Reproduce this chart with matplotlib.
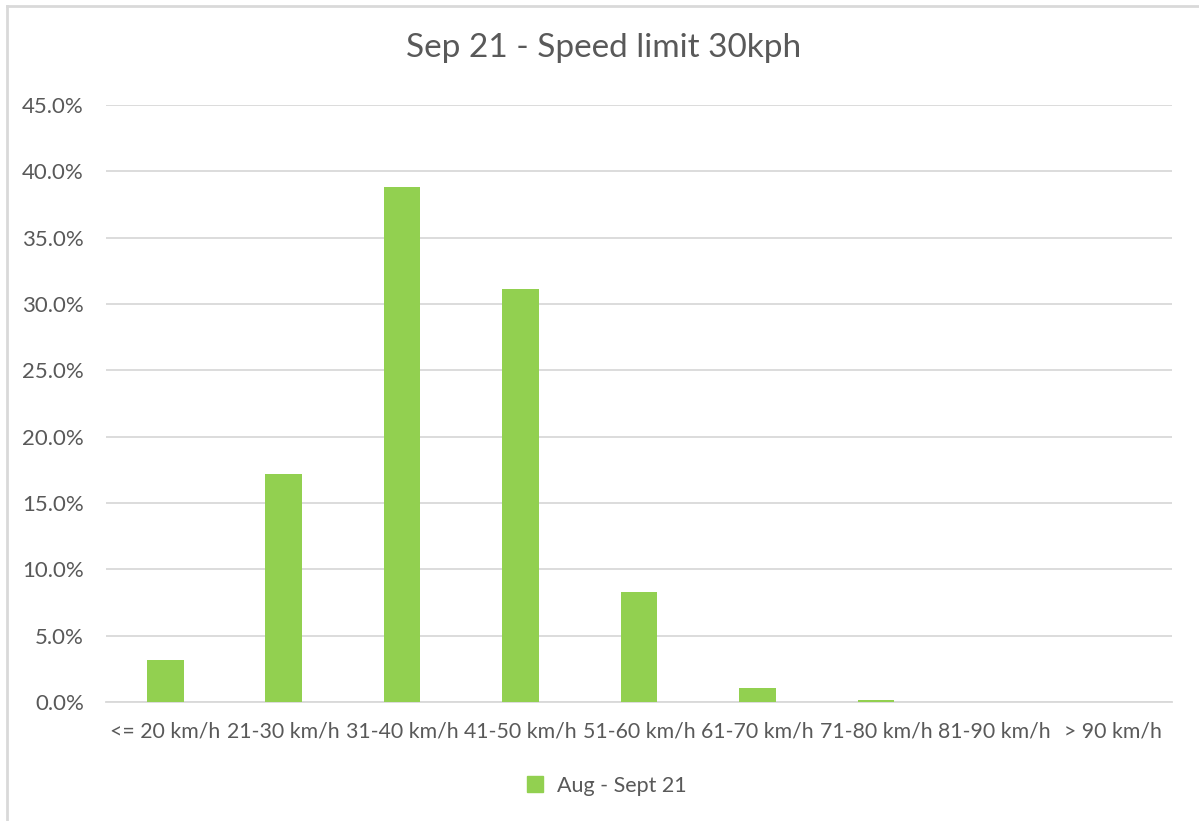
import matplotlib
matplotlib.use("Agg")
import matplotlib.pyplot as plt
from matplotlib.ticker import PercentFormatter
from matplotlib.lines import Line2D

categories = ["<= 20 km/h", "21-30 km/h", "31-40 km/h", "41-50 km/h", "51-60 km/h",
              "61-70 km/h", "71-80 km/h", "81-90 km/h", "> 90 km/h"]
share = [3.2, 17.2, 38.8, 31.1, 8.3, 1.05, 0.15, 0.0, 0.0]
series_name = "Aug - Sept 21"
title = "Sep 21 - Speed limit 30kph"

green = "#92D050"
txt = "#595959"
grid = "#D9D9D9"

plt.rcParams['font.family'] = ['Lato', 'DejaVu Sans']

fig = plt.figure(figsize=(11.99, 8.21), dpi=100)
ax = fig.add_axes([106/1199, 1 - 702/821, (1172-106)/1199, (702-105)/821])

x = range(len(categories))
ax.bar(x, share, width=0.31, color=green, zorder=3)

ax.set_xlim(-0.5, len(categories) - 0.5)
ax.set_ylim(0, 45)
ax.set_yticks(range(0, 46, 5))
ax.yaxis.set_major_formatter(PercentFormatter(decimals=1))
ax.set_xticks(list(x))
ax.set_xticklabels(categories)
ax.tick_params(axis='both', length=0, labelsize=16, colors=txt)
ax.tick_params(axis='x', labelsize=15.3, pad=14)
ax.tick_params(axis='y', pad=16)
ax.grid(axis='y', color=grid, linewidth=1.3, zorder=0)
for s in ['top', 'right', 'left']:
    ax.spines[s].set_visible(False)
ax.spines['bottom'].set_color(grid)
ax.spines['bottom'].set_linewidth(1.3)

fig.text(604/1199, 1 - 48/821, title, ha='center', va='center', fontsize=24, color=txt)

handle = Line2D([], [], marker='s', linestyle='none', markersize=11,
                markerfacecolor=green, markeredgecolor=green)
fig.legend([handle], [series_name], loc='center', bbox_to_anchor=(600/1199, 1 - 786/821),
           frameon=False, fontsize=15.5, labelcolor=txt, handletextpad=0.05)

# chart border (cropped on right and bottom)
fig.add_artist(Line2D([7/1199, 7/1199], [0, 1 - 6/821], transform=fig.transFigure,
                      color=grid, linewidth=2))
fig.add_artist(Line2D([7/1199, 1], [1 - 6/821, 1 - 6/821], transform=fig.transFigure,
                      color=grid, linewidth=2))

fig.savefig("out.png", dpi=100)
